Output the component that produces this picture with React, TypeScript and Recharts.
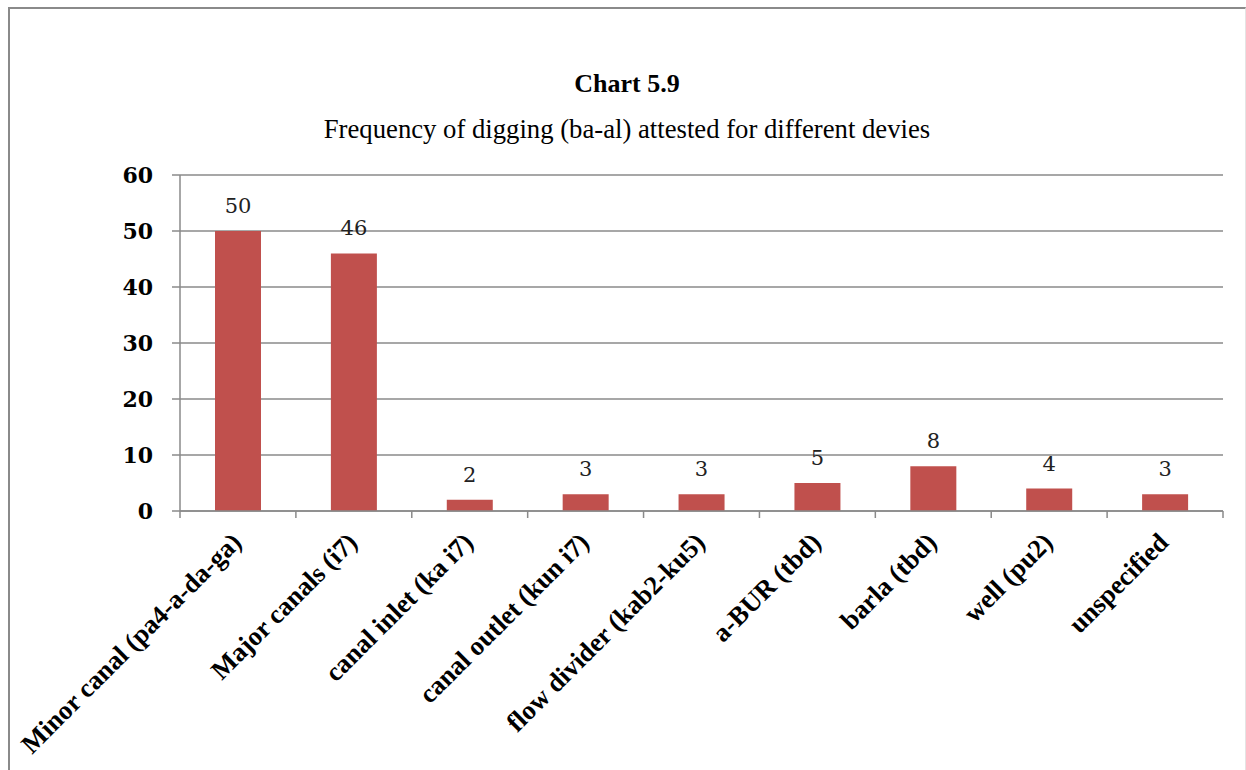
import React from 'react';
import { BarChart, Bar, XAxis, YAxis, CartesianGrid, LabelList } from 'recharts';

const CATEGORIES = [
  'Minor canal (pa4-a-da-ga)',
  'Major canals (i7)',
  'canal inlet (ka i7)',
  'canal outlet (kun i7)',
  'flow divider (kab2-ku5)',
  'a-BUR (tbd)',
  'barla (tbd)',
  'well (pu2)',
  'unspecified',
];
const COUNTS = [50, 46, 2, 3, 3, 5, 8, 4, 3];
const Y_TICKS = [0, 10, 20, 30, 40, 50, 60];

const TITLE = 'Chart 5.9';
const SUBTITLE = 'Frequency of digging (ba-al) attested for different devies';

const data = CATEGORIES.map((name, i) => ({ name, count: COUNTS[i] }));

// chart box runs from page x=8, y=7 to the window edge
const CHART_W = 1238;
const CHART_H = 763;
const MARGIN = { top: 168, right: 23, left: 0, bottom: 0 };
const Y_AXIS_W = 172;
const X_AXIS_H = 259;
const PLOT_W = CHART_W - Y_AXIS_W - MARGIN.right;
const BAND = PLOT_W / CATEGORIES.length;

const GREY = '#8a8a8a';
const SERIF = "'Liberation Serif', 'Times New Roman', serif";

function CategoryTick(props: any) {
  const { x, y, payload } = props;
  const idx = payload?.index ?? 0;
  const half = BAND / 2;
  const tx = x + 5;
  const ty = y + 33;
  return (
    <g>
      <line x1={x - half} y1={y} x2={x - half} y2={y + 7} stroke={GREY} strokeWidth={1.5} />
      {idx === CATEGORIES.length - 1 && (
        <line x1={x + half} y1={y} x2={x + half} y2={y + 7} stroke={GREY} strokeWidth={1.5} />
      )}
      <text
        x={tx}
        y={ty}
        transform={`rotate(-45, ${tx}, ${ty})`}
        textAnchor="end"
        fontFamily={SERIF}
        fontWeight="bold"
        fontSize={26.5}
        fill="#000"
      >
        {payload.value}
      </text>
    </g>
  );
}

export default function App() {
  return (
    <>
      <style>{'body{margin:0;overflow:hidden;background:#fff}'}</style>
      <div
        style={{
          position: 'absolute',
          left: 8,
          top: 7,
          width: CHART_W,
          height: CHART_H,
          borderTop: `2px solid ${GREY}`,
          borderLeft: `2px solid ${GREY}`,
          borderRight: '1px solid #e4e4e4',
          boxSizing: 'border-box',
        }}
      >
        <div style={{ position: 'absolute', left: -2, top: -2 }}>
          <BarChart width={CHART_W} height={CHART_H} data={data} margin={MARGIN}>
            <CartesianGrid vertical={false} stroke={GREY} strokeWidth={1.5} />
            <XAxis
              dataKey="name"
              interval={0}
              height={X_AXIS_H}
              tickLine={false}
              tickSize={0}
              tickMargin={0}
              axisLine={{ stroke: GREY, strokeWidth: 1.5 }}
              tick={<CategoryTick />}
            />
            <YAxis
              width={Y_AXIS_W}
              domain={[0, 60]}
              ticks={Y_TICKS}
              interval={0}
              tickSize={8}
              tickMargin={19}
              axisLine={{ stroke: GREY, strokeWidth: 1.5 }}
              tickLine={{ stroke: GREY, strokeWidth: 1.5 }}
              tick={{ fontFamily: "'DejaVu Serif', serif", fontWeight: 'bold', fontSize: 22, fill: '#000' }}
            />
            <Bar dataKey="count" fill="#c0504d" barSize={46} isAnimationActive={false}>
              <LabelList
                dataKey="count"
                position="top"
                offset={18}
                fontFamily="'DejaVu Serif', serif"
                fontSize={21}
                fill="#222"
              />
            </Bar>
          </BarChart>
          <svg
            width={CHART_W}
            height={160}
            style={{ position: 'absolute', left: 0, top: 0, pointerEvents: 'none' }}
          >
            <text x={619} y={85} textAnchor="middle" fontFamily={SERIF} fontWeight="bold" fontSize={26} fill="#000">
              {TITLE}
            </text>
            <text x={619} y={131} textAnchor="middle" fontFamily={SERIF} fontSize={26.7} fill="#000">
              {SUBTITLE}
            </text>
          </svg>
        </div>
      </div>
    </>
  );
}
